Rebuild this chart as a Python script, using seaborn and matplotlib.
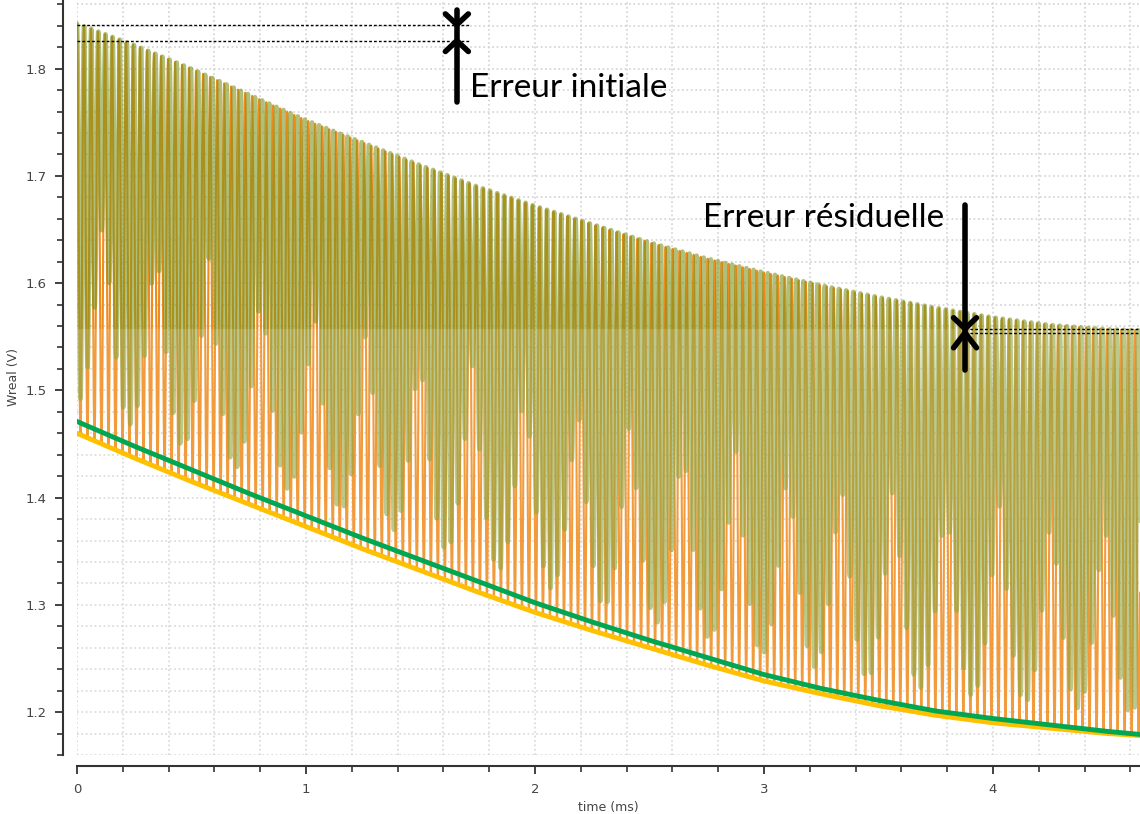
import numpy as np
import pandas as pd
import seaborn as sns
import matplotlib.pyplot as plt
from matplotlib.ticker import MultipleLocator

sns.set_theme(style="white")
plt.rcParams['font.family'] = ['DejaVu Sans']

# envelope readings (time in ms, volts)
t_env = [0.0, 0.25, 0.5, 0.75, 1.0, 1.25, 1.5, 1.75, 2.0, 2.25, 2.5, 2.75,
         3.0, 3.25, 3.5, 3.75, 4.0, 4.25, 4.5, 4.65]
upper = [1.842, 1.822, 1.800, 1.776, 1.752, 1.731, 1.710, 1.690, 1.672, 1.655,
         1.638, 1.623, 1.610, 1.598, 1.587, 1.577, 1.568, 1.561, 1.557, 1.556]
lower_orange = [1.460, 1.437, 1.415, 1.394, 1.373, 1.352, 1.332, 1.312, 1.293, 1.276,
                1.260, 1.244, 1.229, 1.217, 1.206, 1.197, 1.190, 1.185, 1.180, 1.178]
lower_green = [1.471, 1.448, 1.426, 1.404, 1.383, 1.362, 1.342, 1.322, 1.302, 1.284,
               1.267, 1.251, 1.235, 1.222, 1.211, 1.201, 1.194, 1.188, 1.182, 1.179]
period_ms = 0.0306      # orange oscillation period
period_green = 0.0311   # green oscillation period (slight beat)

err_init = [1.841, 1.826]
err_resid = [1.5575, 1.5537]

t = np.linspace(0, 4.65, 30000)
up = np.interp(t, t_env, upper)
lo_o = np.interp(t, t_env, lower_orange)
lo_g = np.interp(t, t_env, lower_green)
orange = lo_o + (up - lo_o) * (0.5 + 0.5 * np.cos(2 * np.pi * t / period_ms))
depth = 0.45 + 0.5 * np.abs(np.cos(np.pi * t / 0.23))
green = up - (up - lo_g) * depth * (0.5 - 0.5 * np.cos(2 * np.pi * t / period_green))

fig = plt.figure(figsize=(11.4, 8.14), dpi=100)
ax = fig.add_axes([0.0675, 0.0725, 0.9325, 0.9275])

ax.plot(t, orange, color="#ef8a1c", lw=1.5, zorder=3)
ax.plot(t, green, color="#7c9622", lw=3.3, alpha=0.6, zorder=4)
ax.axhspan(1.16, err_resid[0], color="white", alpha=0.15, zorder=5, lw=0)

env = pd.DataFrame({"t": t_env, "orange": lower_orange, "green": lower_green})
sns.lineplot(data=env, x="t", y="orange", color="#ffc000", lw=3.5, ax=ax, zorder=6)
sns.lineplot(data=env, x="t", y="green", color="#00a651", lw=3.5, ax=ax, zorder=7)

ax.set_xlim(0, 4.642)
ax.set_ylim(1.16, 1.864)
ax.xaxis.set_major_locator(MultipleLocator(1))
ax.xaxis.set_minor_locator(MultipleLocator(0.2))
ax.yaxis.set_major_locator(MultipleLocator(0.1))
ax.yaxis.set_minor_locator(MultipleLocator(0.02))
ax.grid(which="both", color="#d2d2d2", ls=":", lw=1.2)
for s in ["top", "right"]:
    ax.spines[s].set_visible(False)
ax.spines["left"].set_position(("outward", 10))
ax.spines["bottom"].set_position(("outward", 8))
for s in ["left", "bottom"]:
    ax.spines[s].set_color("#333333")
    ax.spines[s].set_linewidth(1.5)
ax.tick_params(which="major", direction="out", length=6, width=1.3, color="#333333",
               labelsize=9.5, labelcolor="#444444", pad=6, left=True, bottom=True)
ax.tick_params(which="minor", direction="out", length=4, width=1.2, color="#333333",
               left=True, bottom=True)
ax.set_xlabel("time (ms)", fontsize=9, color="#444444", labelpad=4)
ax.set_ylabel("Wreal (V)", fontsize=9, color="#444444", labelpad=4)

# initial error marker
x1 = 1.659
ax.plot([0, 1.716], [err_init[0]] * 2, color="black", ls=(0, (2, 1.5)), lw=1, zorder=8)
ax.plot([0, 1.716], [err_init[1]] * 2, color="black", ls=(0, (2, 1.5)), lw=1, zorder=8)
kw = dict(color="black", lw=4, solid_capstyle="round", solid_joinstyle="round", zorder=9, clip_on=False)
ax.plot([x1, x1], [1.769, 1.855], **kw)
ax.plot([x1 - 0.05, x1, x1 + 0.05], [1.851, err_init[0], 1.851], **kw)
ax.plot([x1 - 0.05, x1, x1 + 0.05], [1.816, err_init[1], 1.816], **kw)
ax.text(1.716, 1.782, "Erreur initiale", fontsize=24, family="Lato", va="center", ha="left", color="black")

# residual error marker
x2 = 3.878
ax.plot([x2, 4.642], [err_resid[0]] * 2, color="black", ls=(0, (2, 1.5)), lw=1, zorder=8)
ax.plot([x2, 4.642], [err_resid[1]] * 2, color="black", ls=(0, (2, 1.5)), lw=1, zorder=8)
ax.plot([x2, x2], [1.519, 1.673], **kw)
ax.plot([x2 - 0.05, x2, x2 + 0.05], [1.5677, err_resid[0], 1.5677], **kw)
ax.plot([x2 - 0.05, x2, x2 + 0.05], [1.5397, err_resid[1], 1.5397], **kw)
ax.text(2.734, 1.661, "Erreur résiduelle", fontsize=24, family="Lato", va="center", ha="left", color="black")

fig.savefig("out.png", dpi=100)
